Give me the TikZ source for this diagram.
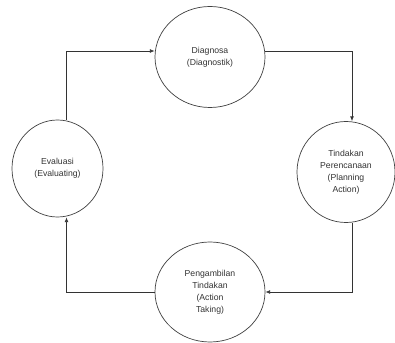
\documentclass[tikz,border=0pt]{standalone}
\usepackage{fontspec}
\setmainfont{Liberation Sans}
\usetikzlibrary{shapes.geometric,arrows.meta,calc}

\begin{document}
\begin{tikzpicture}[x=0.03cm,y=-0.03cm,
    font=\fontsize{7.4}{10.2}\selectfont,
    phase/.style={draw=black!75,line width=0.6pt,ellipse,inner sep=0pt,
      align=center,text=black!80},
    flow/.style={draw=black!80,line width=0.55pt,-{Latex[length=4pt,width=3.2pt]}}]
    \useasboundingbox (0,0) rectangle (395,343);
    \node[phase,minimum width=3.3cm,minimum height=3.03cm] (diag) at (210,57) {Diagnosa\\(Diagnostik)};
    \node[phase,minimum width=2.94cm,minimum height=3.03cm] (tind) at (346,172) {Tindakan\\Perencanaan\\(Planning\\Action)};
    \node[phase,minimum width=3.3cm,minimum height=3.0cm] (peng) at (210,292) {Pengambilan\\Tindakan\\(Action\\Taking)};
    \node[phase,minimum width=2.73cm,minimum height=2.91cm] (eval) at (57.5,168.5) {Evaluasi\\(Evaluating)};

    % siklus
    \draw[flow] ($(diag.east)+(0,-6)$) -| ($(tind.north)+(6,0)$);
    \draw[flow] ($(tind.south)+(6,0)$) |- ($(peng.east)+(0,0)$);
    \draw[flow] (peng.west) -| ($(eval.south)+(9,0)$);
    \draw[flow] ($(eval.north)+(8.5,0)$) |- ($(diag.west)+(0,-6)$);
  \end{tikzpicture}
\end{document}
